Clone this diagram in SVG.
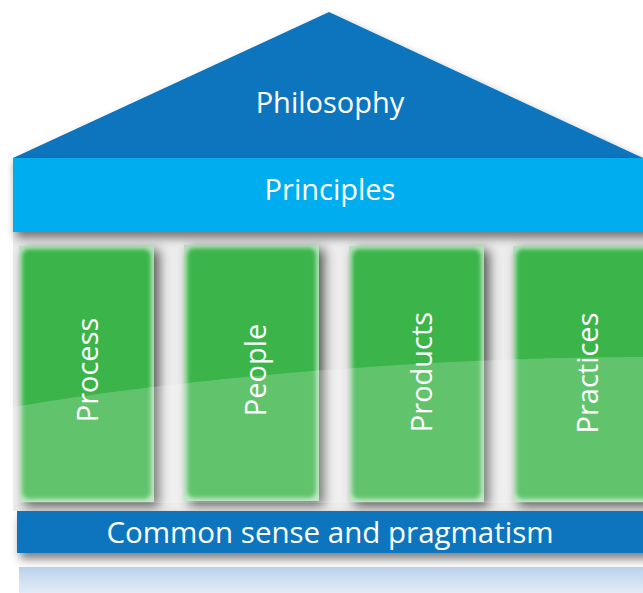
<svg xmlns="http://www.w3.org/2000/svg" width="643" height="593" viewBox="0 0 643 593">
  <defs>
    <filter id="shadow" x="-10%" y="-20%" width="130%" height="170%">
      <feDropShadow dx="3" dy="6" stdDeviation="5" flood-color="#000" flood-opacity="0.5"/>
    </filter>
    <filter id="pshadow" x="-20%" y="-10%" width="150%" height="130%">
      <feDropShadow dx="5" dy="4" stdDeviation="6" flood-color="#000" flood-opacity="0.65"/>
    </filter>
    <filter id="soft" x="-10%" y="-10%" width="120%" height="120%">
      <feGaussianBlur stdDeviation="2"/>
    </filter>
    <linearGradient id="baseFade" x1="0" y1="0" x2="0" y2="1">
      <stop offset="0" stop-color="#BBD2EC"/>
      <stop offset="1" stop-color="#E8EFF8"/>
    </linearGradient>
  </defs>
  <style>
    .lbl { font-family: "Open Sans", "Noto Sans", "Liberation Sans", sans-serif; fill: #ffffff; text-anchor: middle; }
    .big { font-size: 29px; }
    .edge { fill: #B5E2BB; }
    .core { fill: #3BB44A; }
  </style>
  <rect width="643" height="593" fill="#ffffff"/>

  <g id="foundation">
    <rect x="19" y="567" width="630" height="30" fill="url(#baseFade)"/>
  </g>

  <g id="backdrop">
    <rect x="13" y="232" width="640" height="279" fill="#EDEDED"/>
  </g>

  <g id="pillar-shadows" filter="url(#pshadow)">
    <rect x="19" y="246" width="135" height="256" fill="#3BB44A"/>
    <rect x="184" y="245" width="135" height="256" fill="#3BB44A"/>
    <rect x="349" y="246" width="135" height="256" fill="#3BB44A"/>
    <rect x="513" y="246" width="140" height="256" fill="#3BB44A"/>
  </g>

  <g id="process">
    <rect class="edge" x="19" y="246" width="135" height="256"/>
    <rect class="core" x="22" y="249" width="129" height="250" rx="7" filter="url(#soft)"/>
  </g>
  <g id="people">
    <rect class="edge" x="184" y="245" width="135" height="256"/>
    <rect class="core" x="187" y="248" width="129" height="250" rx="7" filter="url(#soft)"/>
  </g>
  <g id="products">
    <rect class="edge" x="349" y="246" width="135" height="256"/>
    <rect class="core" x="352" y="249" width="129" height="250" rx="7" filter="url(#soft)"/>
  </g>
  <g id="practices">
    <rect class="edge" x="513" y="246" width="140" height="256"/>
    <rect class="core" x="516" y="249" width="140" height="250" rx="7" filter="url(#soft)"/>
  </g>

  <g id="gloss">
    <path d="M13,407 C200,375 450,357 643,357 L643,503 L13,503 Z" fill="#ffffff" fill-opacity="0.2"/>
  </g>

  <g id="pillar-labels">
    <text class="lbl big" transform="translate(86,370) rotate(-90)" dominant-baseline="central">Process</text>
    <text class="lbl big" transform="translate(254,370) rotate(-90)" dominant-baseline="central">People</text>
    <text class="lbl big" transform="translate(420,372) rotate(-90)" dominant-baseline="central">Products</text>
    <text class="lbl big" transform="translate(586,373) rotate(-90)" dominant-baseline="central">Practices</text>
  </g>

  <g id="common-sense">
    <rect x="17" y="511" width="640" height="42" fill="#1174BE" filter="url(#shadow)"/>
    <text class="lbl" style="font-size:29.5px" x="330" y="543">Common sense and pragmatism</text>
  </g>

  <g id="philosophy">
    <polygon points="329,12 643,158 643,162 13,162 13,158" fill="#1174BE" filter="url(#shadow)"/>
    <text class="lbl big" x="330" y="113">Philosophy</text>
  </g>

  <g id="principles">
    <rect x="13" y="158" width="640" height="74" fill="#00AEEF" filter="url(#shadow)"/>
    <text class="lbl big" x="330" y="200">Principles</text>
  </g>

  <g id="connectors"/>
</svg>
